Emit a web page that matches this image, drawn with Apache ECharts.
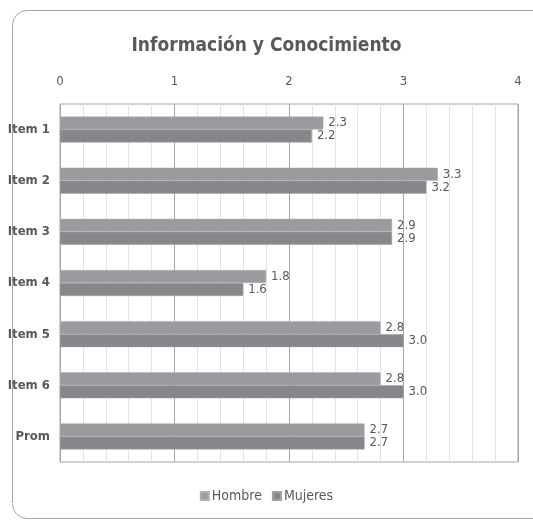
<!DOCTYPE html>
<html><head><meta charset="utf-8">
<script src="https://cdn.jsdelivr.net/npm/echarts@6/dist/echarts.min.js"></script>
<style>html,body{margin:0;padding:0;background:#fff}#c{width:533px;height:521px}</style>
</head><body><div id="c"></div>
<script>
const categories = ['Item 1','Item 2','Item 3','Item 4','Item 5','Item 6','Prom'];
const hombre = [2.3, 3.3, 2.9, 1.8, 2.8, 2.8, 2.66];
const mujeres = [2.2, 3.2, 2.9, 1.6, 3.0, 3.0, 2.66];
const tickValues = [0, 1, 2, 3, 4];
const seriesNames = ['Hombre', 'Mujeres'];

const FONT = '"DejaVu Sans Condensed","Liberation Sans Narrow",sans-serif';
const frameStyle = { fill: 'none', stroke: '#a6a6a6', lineWidth: 1 };
const chart = echarts.init(document.getElementById('c'));
chart.setOption({
  backgroundColor: '#fff',
  animation: false,
  textStyle: { fontFamily: FONT, color: '#595959' },
  graphic: [
    { type: 'line', silent: true, z: -10, shape: { x1: 27, y1: 10.5, x2: 540, y2: 10.5 }, style: frameStyle },
    { type: 'line', silent: true, z: -10, shape: { x1: 27, y1: 518.5, x2: 540, y2: 518.5 }, style: frameStyle },
    { type: 'line', silent: true, z: -10, shape: { x1: 12.5, y1: 25, x2: 12.5, y2: 503 }, style: frameStyle },
    { type: 'arc', silent: true, z: -10, shape: { cx: 27, cy: 25, r: 14.5, startAngle: Math.PI, endAngle: Math.PI * 1.5, clockwise: true }, style: frameStyle },
    { type: 'arc', silent: true, z: -10, shape: { cx: 27, cy: 504, r: 14.5, startAngle: Math.PI * 0.5, endAngle: Math.PI, clockwise: true }, style: frameStyle }
  ],
  title: {
    text: 'Información y Conocimiento',
    left: 'center', top: 32,
    textStyle: { fontFamily: FONT, fontSize: 19, fontWeight: 'bold', color: '#595959' }
  },
  legend: {
    data: seriesNames, bottom: 13, left: 'center',
    itemWidth: 8, itemHeight: 8, itemGap: 10, icon: 'rect',
    textStyle: { fontFamily: FONT, fontSize: 14, color: '#595959', padding: [0,0,0,-2] }
  },
  grid: { left: 60, right: 15, top: 104, bottom: 59, show: true, borderColor: '#a6a6a6', borderWidth: 1 },
  xAxis: {
    type: 'value', position: 'top', min: tickValues[0], max: tickValues[tickValues.length-1], interval: 1,
    axisLine: { show: false }, axisTick: { show: false },
    axisLabel: { fontFamily: FONT, fontSize: 13, color: '#595959', margin: 16 },
    splitLine: { show: true, lineStyle: { color: '#a6a6a6', width: 1 } },
    minorTick: { show: false, splitNumber: 5 },
    minorSplitLine: { show: true, lineStyle: { color: '#e3e3e3', width: 1 } }
  },
  yAxis: {
    type: 'category', data: categories, inverse: true,
    axisLine: { show: false }, axisTick: { show: false },
    axisLabel: { fontFamily: FONT, fontSize: 13, fontWeight: 'bold', color: '#595959', margin: 10 }
  },
  series: [
    {
      name: seriesNames[0], type: 'bar', data: hombre, barWidth: 13, barGap: '0%',
      itemStyle: { color: '#9a9b9f', borderColor: '#b0b1b4', borderWidth: 0.5 },
      label: { show: true, position: 'right', distance: 5, fontFamily: FONT, fontSize: 13, color: '#595959',
        formatter: p => p.value.toFixed(1) }
    },
    {
      name: seriesNames[1], type: 'bar', data: mujeres, barWidth: 13,
      itemStyle: { color: '#86878b', borderColor: '#a0a1a4', borderWidth: 0.5 },
      label: { show: true, position: 'right', distance: 5, fontFamily: FONT, fontSize: 13, color: '#595959',
        formatter: p => p.value.toFixed(1) }
    }
  ]
});
</script></body></html>
